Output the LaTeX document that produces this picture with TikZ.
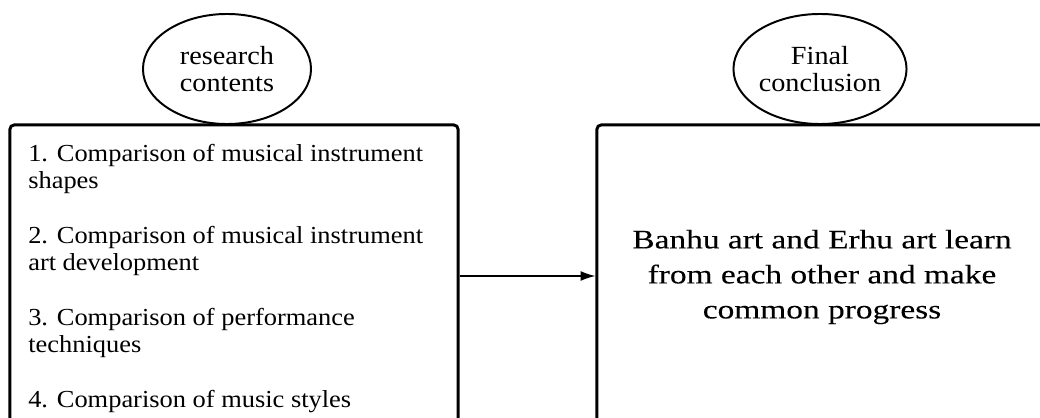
\documentclass[tikz,border=0pt]{standalone}
\usepackage{fontspec}
\setmainfont{Liberation Serif}[FakeStretch=1.08]
\newfontfamily\widefont{Liberation Serif}[FakeStretch=1.25, FakeBold=0.15]
\usetikzlibrary{shapes.geometric,arrows.meta}

\tikzset{
  panel/.style = {draw, line width=2.1pt, rounded corners=3pt, fill=white,
                  minimum height=7.55cm},
  bubble/.style = {ellipse, draw, line width=1.4pt, fill=white, align=center,
                   minimum width=4.2cm, minimum height=2.75cm, inner sep=0pt,
                   font=\fontsize{18.6}{19.6}\selectfont},
}

\begin{document}
\begin{tikzpicture}[x=0.025cm, y=-0.025cm]
    \useasboundingbox (0,0) rectangle (1040,418);
    \clip (0,0) rectangle (1040,418);

    % the two boxes
    \node (contents) [panel, minimum width=11.2cm] at (234, 276) {};
    \node (conclusion) [panel, minimum width=11.25cm] at (822, 276) {};

    % the titles on top
    \node (topicL) [bubble] at (227, 69) {research\\contents};
    \node (topicR) [bubble] at (820, 69) {Final\\conclusion};

    % what is compared
    \node (items) [anchor=north west, inner sep=0pt, align=left,
                   font=\fontsize{17.4}{19.4}\selectfont] at (28, 144)
        {1. Comparison of musical instrument\\shapes\\[\baselineskip]
         2. Comparison of musical instrument\\art development\\[\baselineskip]
         3. Comparison of performance\\techniques\\[\baselineskip]
         4. Comparison of music styles};

    % the result
    \node (result) [align=center, inner sep=0pt,
                    font=\widefont\fontsize{19}{24.9}\selectfont] at (822, 277)
        {Banhu art and Erhu art learn\\from each other and make\\common progress};

    \draw [-{Latex[length=10.5pt, width=7pt]}, line width=1pt] (contents) -- (conclusion);
\end{tikzpicture}
\end{document}
